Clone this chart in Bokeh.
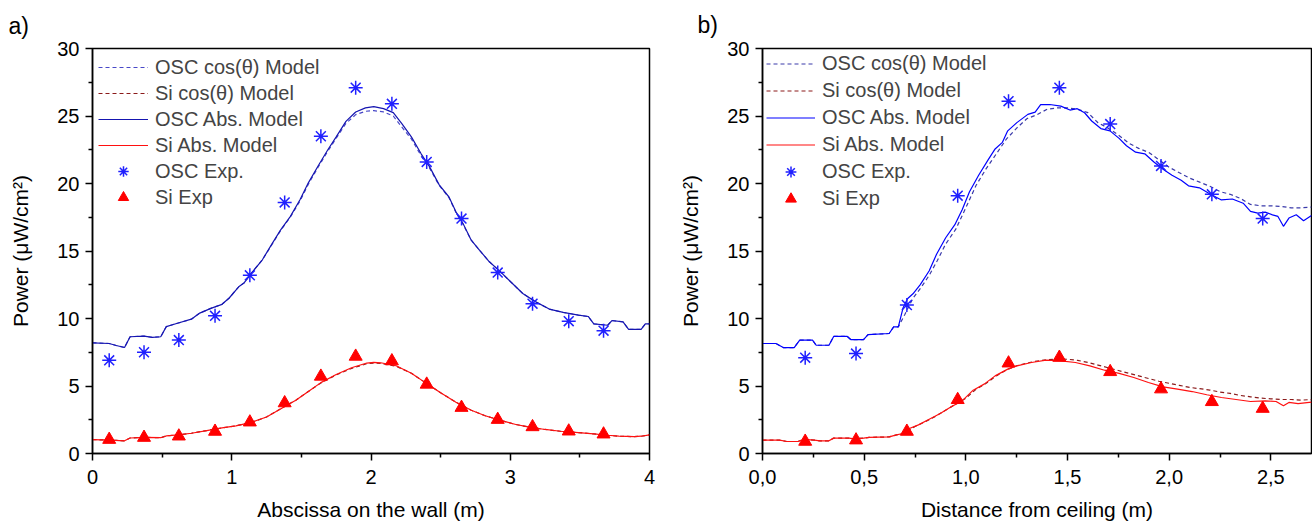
from bokeh.plotting import figure
from bokeh.layouts import row
from bokeh.models import (Range1d, FixedTicker, Legend, LegendItem,
                          CustomJSTickFormatter)
from bokeh.embed import file_html
from bokeh.resources import INLINE

FONT = "Liberation Sans"

# ---------------- panel a) data ----------------
a_exp_x = [0.12, 0.37, 0.62, 0.88, 1.13, 1.38, 1.64, 1.89, 2.15, 2.40, 2.65, 2.91, 3.16, 3.42, 3.67]
a_osc_exp = [6.9, 7.5, 8.4, 10.2, 13.2, 18.6, 23.5, 27.1, 25.9, 21.6, 17.4, 13.4, 11.1, 9.8, 9.1]
a_si_exp = [1.03, 1.18, 1.28, 1.63, 2.32, 3.74, 5.71, 7.19, 6.85, 5.12, 3.4, 2.51, 1.97, 1.65, 1.43]

a_osc_x = [0.0, 0.12, 0.17, 0.23, 0.27, 0.37, 0.43, 0.49, 0.53, 0.61, 0.71, 0.77, 0.85, 0.93, 0.98,
           1.05, 1.09, 1.14, 1.22, 1.29, 1.35, 1.42, 1.49, 1.55, 1.62, 1.69, 1.75, 1.82, 1.89, 1.96,
           2.02, 2.09, 2.16, 2.22, 2.29, 2.36, 2.42, 2.49, 2.56, 2.61, 2.66, 2.72, 2.78, 2.85, 2.93,
           3.01, 3.09, 3.18, 3.28, 3.38, 3.49, 3.56, 3.60, 3.70, 3.73, 3.81, 3.85, 3.94, 3.97, 4.0]
a_osc_abs = [8.2, 8.15, 8.0, 7.85, 8.65, 8.7, 8.6, 8.65, 9.4, 9.65, 9.95, 10.4, 10.75, 11.05, 11.5,
             12.35, 12.65, 13.35, 14.35, 15.55, 16.55, 17.55, 18.8, 20.05, 21.3, 22.5, 23.45, 24.6, 25.3, 25.6,
             25.7, 25.55, 25.25, 24.45, 23.45, 22.2, 21.25, 19.9, 19.0, 17.9, 17.05, 15.8, 15.05, 14.2, 13.45,
             12.65, 11.85, 11.25, 10.7, 10.45, 10.25, 10.15, 9.6, 9.5, 9.85, 9.75, 9.2, 9.2, 9.6, 9.6]
a_osc_cos = [8.2, 8.15, 8.0, 7.85, 8.65, 8.7, 8.6, 8.65, 9.4, 9.65, 9.95, 10.4, 10.75, 11.05, 11.5,
             12.35, 12.65, 13.35, 14.35, 15.5, 16.5, 17.5, 18.7, 19.95, 21.2, 22.4, 23.35, 24.45, 25.1, 25.35,
             25.4, 25.3, 25.0, 24.2, 23.3, 22.05, 21.15, 19.85, 18.95, 17.85, 17.0, 15.8, 15.05, 14.2, 13.45,
             12.65, 11.85, 11.25, 10.7, 10.45, 10.25, 10.15, 9.6, 9.5, 9.85, 9.75, 9.2, 9.2, 9.6, 9.6]

a_si_x = [0.0, 0.13, 0.23, 0.27, 0.37, 0.49, 0.53, 0.63, 0.71, 0.82, 0.93, 1.03, 1.14, 1.25, 1.35,
          1.46, 1.55, 1.64, 1.75, 1.86, 1.97, 2.02, 2.07, 2.18, 2.29, 2.39, 2.50, 2.61, 2.72, 2.82,
          2.93, 3.04, 3.14, 3.25, 3.36, 3.49, 3.60, 3.70, 3.78, 3.89, 3.94, 4.0]
a_si_abs = [1.03, 0.99, 0.94, 1.15, 1.2, 1.17, 1.3, 1.4, 1.5, 1.7, 1.9, 2.05, 2.3, 2.7, 3.3,
            3.95, 4.6, 5.25, 5.85, 6.35, 6.7, 6.75, 6.72, 6.5, 5.95, 5.25, 4.5, 3.8, 3.2, 2.8,
            2.45, 2.15, 1.95, 1.78, 1.65, 1.55, 1.45, 1.35, 1.28, 1.25, 1.28, 1.38]
a_si_cos = [1.03, 0.99, 0.94, 1.15, 1.2, 1.17, 1.3, 1.4, 1.5, 1.7, 1.9, 2.05, 2.3, 2.7, 3.3,
            3.95, 4.6, 5.22, 5.82, 6.3, 6.65, 6.7, 6.68, 6.47, 5.95, 5.25, 4.5, 3.8, 3.2, 2.8,
            2.45, 2.15, 1.95, 1.78, 1.65, 1.55, 1.45, 1.35, 1.28, 1.25, 1.28, 1.38]

# ---------------- panel b) data ----------------
b_exp_x = [0.21, 0.46, 0.71, 0.96, 1.21, 1.46, 1.71, 1.96, 2.21, 2.46]
b_osc_exp = [7.1, 7.4, 11.0, 19.1, 26.1, 27.1, 24.4, 21.3, 19.2, 17.4]
b_si_exp = [0.89, 0.99, 1.63, 3.98, 6.69, 7.11, 6.05, 4.77, 3.83, 3.33]

b_osc_x = [0.0, 0.066, 0.102, 0.156, 0.183, 0.246, 0.264, 0.327, 0.35, 0.417, 0.434, 0.497, 0.519,
           0.623, 0.645, 0.668, 0.691, 0.713, 0.74, 0.776, 0.82, 0.856, 0.901, 0.946, 0.982, 1.018,
           1.063, 1.108, 1.144, 1.18, 1.206, 1.251, 1.305, 1.341, 1.368, 1.413, 1.467, 1.512, 1.548,
           1.584, 1.619, 1.664, 1.709, 1.754, 1.79, 1.835, 1.88, 1.925, 1.97, 2.014, 2.059, 2.095,
           2.149, 2.203, 2.257, 2.311, 2.364, 2.4, 2.436, 2.472, 2.508, 2.535, 2.562, 2.589, 2.625,
           2.661, 2.7]
b_osc_abs = [8.15, 8.15, 7.85, 7.85, 8.4, 8.4, 8.02, 8.02, 8.67, 8.67, 8.44, 8.44, 8.81,
             8.89, 9.38, 9.38, 10.77, 11.46, 11.83, 12.51, 13.54, 14.76, 15.98, 16.95, 18.05, 19.39,
             20.61, 21.71, 22.56, 23.05, 23.9, 24.51, 25.12, 25.29, 25.85, 25.85, 25.73, 25.44, 25.54,
             25.24, 24.63, 24.07, 23.9, 23.34, 22.8, 22.32, 22.2, 21.59, 21.05, 20.61, 20.24, 19.83,
             19.68, 19.2, 18.78, 18.85, 18.54, 17.93, 17.8, 17.88, 17.68, 17.56, 16.83, 17.44, 17.68,
             17.24, 17.63]

b_cos_x = [0.0, 0.066, 0.102, 0.156, 0.183, 0.246, 0.264, 0.327, 0.35, 0.417, 0.434, 0.497, 0.519,
           0.623, 0.645, 0.668, 0.70, 0.74, 0.78, 0.82, 0.86, 0.90, 0.95,
           1.0, 1.05, 1.1, 1.15, 1.2, 1.25, 1.3, 1.35, 1.4, 1.45, 1.5, 1.55, 1.6, 1.65, 1.7, 1.75,
           1.8, 1.85, 1.9, 1.95, 2.0, 2.05, 2.1, 2.15, 2.2, 2.25, 2.3, 2.35, 2.4, 2.45, 2.5, 2.55,
           2.6, 2.65, 2.7]
b_osc_cos = [8.15, 8.15, 7.85, 7.85, 8.4, 8.4, 8.02, 8.02, 8.67, 8.67, 8.44, 8.44, 8.81,
             8.89, 9.38, 9.38, 10.3, 11.5, 12.3, 13.2, 14.3, 15.5, 16.6,
             18.2, 19.85, 21.1, 22.2, 23.3, 24.1, 24.8, 25.1, 25.5, 25.6, 25.6, 25.5, 25.25, 24.5, 24.1, 23.6,
             23.0, 22.6, 22.3, 21.75, 21.2, 20.8, 20.4, 20.1, 19.8, 19.4, 19.2, 18.9, 18.45, 18.35, 18.35, 18.3,
             18.2, 18.2, 18.25]

b_si_x = [0.0, 0.084, 0.12, 0.174, 0.201, 0.255, 0.282, 0.327, 0.35, 0.425, 0.452, 0.497, 0.524,
          0.623, 0.659, 0.691, 0.713, 0.767, 0.82, 0.874, 0.928, 0.982, 1.036, 1.09, 1.144, 1.206,
          1.251, 1.323, 1.395, 1.467, 1.539, 1.61, 1.682, 1.754, 1.826, 1.898, 1.97, 2.041, 2.113,
          2.185, 2.257, 2.329, 2.4, 2.472, 2.526, 2.562, 2.589, 2.634, 2.7]
b_si_abs = [0.99, 0.99, 0.89, 0.89, 1.04, 0.99, 0.94, 0.94, 1.14, 1.14, 1.09, 1.14, 1.19,
            1.23, 1.38, 1.48, 1.8, 2.12, 2.54, 2.96, 3.46, 3.9, 4.69, 5.14, 5.75, 6.25,
            6.49, 6.74, 6.91, 6.86, 6.74, 6.49, 6.17, 5.93, 5.63, 5.26, 4.94, 4.77, 4.59,
            4.35, 4.15, 4.0, 3.85, 3.9, 3.85, 3.53, 3.78, 3.7, 3.8]

b_si_cos_x = [0.0, 0.084, 0.12, 0.174, 0.201, 0.255, 0.282, 0.327, 0.35, 0.425, 0.452, 0.497, 0.524,
              0.623, 0.659, 0.691, 0.75, 0.8, 0.85, 0.9, 0.95,
              1.0, 1.05, 1.1, 1.15, 1.2, 1.25, 1.3, 1.35, 1.4, 1.45, 1.5, 1.55, 1.6, 1.65, 1.7, 1.75,
              1.8, 1.85, 1.9, 1.95, 2.0, 2.05, 2.1, 2.15, 2.2, 2.25, 2.3, 2.35, 2.4, 2.45, 2.5, 2.55,
              2.6, 2.65, 2.7]
b_si_cos = [0.99, 0.99, 0.89, 0.89, 1.04, 0.99, 0.94, 0.94, 1.14, 1.14, 1.09, 1.14, 1.19,
            1.23, 1.38, 1.48, 2.0, 2.35, 2.75, 3.2, 3.65,
            4.1, 4.75, 5.2, 5.75, 6.2, 6.5, 6.7, 6.85, 6.95, 7.0, 6.98, 6.9, 6.75, 6.55, 6.35, 6.15,
            5.95, 5.75, 5.55, 5.35, 5.2, 5.05, 4.9, 4.8, 4.7, 4.55, 4.45, 4.3, 4.2, 4.1, 4.05, 4.0,
            4.0, 3.95, 4.0]

y_ticks = [0, 5, 10, 15, 20, 25, 30]
y_minor = [2.5, 7.5, 12.5, 17.5, 22.5, 27.5]
a_x_ticks = [0, 1, 2, 3, 4]
a_x_minor = [0.5, 1.5, 2.5, 3.5]
b_x_ticks = [0.0, 0.5, 1.0, 1.5, 2.0, 2.5]
b_x_minor = [0.25, 0.75, 1.25, 1.75, 2.25]

legend_labels = ["OSC cos(\u03b8) Model", "Si cos(\u03b8) Model", "OSC Abs. Model",
                 "Si Abs. Model", "OSC Exp.", "Si Exp"]


def style_axes(p, xlabel):
    for ax in (p.xaxis[0], p.yaxis[0]):
        ax.axis_line_width = 1.5
        ax.axis_line_color = "black"
        ax.major_tick_in = 0
        ax.major_tick_out = 7
        ax.minor_tick_in = 0
        ax.minor_tick_out = 4
        ax.major_tick_line_width = 1.5
        ax.minor_tick_line_width = 1.5
        ax.major_tick_line_color = "black"
        ax.minor_tick_line_color = "black"
        ax.major_label_text_font = FONT
        ax.major_label_text_font_size = "20px"
        ax.major_label_text_color = "black"
        ax.axis_label_text_font = FONT
        ax.axis_label_text_font_size = "21px"
        ax.axis_label_text_font_style = "normal"
        ax.axis_label_text_color = "black"
    p.xaxis[0].axis_label = xlabel
    p.yaxis[0].axis_label = "Power (\u03bcW/cm\u00b2)"
    p.xaxis[0].major_label_standoff = 9
    p.xaxis[0].axis_label_standoff = 11
    p.yaxis[0].major_label_standoff = 6
    p.yaxis[0].axis_label_standoff = 22
    p.grid.visible = False
    p.outline_line_color = "black"
    p.outline_line_width = 1.5


def panel(width, bl, br, xmax, xt, xm, xlabel, tag, tag_offset, tag_standoff):
    p = figure(width=width, height=526, x_range=Range1d(0, xmax), y_range=Range1d(0, 30),
               output_backend="svg", toolbar_location=None,
               min_border_left=bl, min_border_right=br, min_border_top=48, min_border_bottom=73)
    p.title.text = tag
    p.title.align = "left"
    p.title.vertical_align = "top"
    p.title.offset = tag_offset
    p.title.standoff = tag_standoff
    p.title.text_font = FONT
    p.title.text_font_size = "23px"
    p.title.text_font_style = "normal"
    p.title.text_color = "black"
    p.xaxis[0].ticker = FixedTicker(ticks=xt, minor_ticks=xm)
    p.yaxis[0].ticker = FixedTicker(ticks=y_ticks, minor_ticks=y_minor)
    style_axes(p, xlabel)
    return p


def add_series(p, ox, ocos, sx_c, scos, ox_abs, oabs, sx, sabs, ex, oexp, sexp,
               osc_abs_col, osc_cos_col, loc, pad, item_h, gw):
    r1 = p.line(ox, ocos, line_color=osc_cos_col, line_width=1.2, line_dash="4 3")
    r2 = p.line(sx_c, scos, line_color="#8B1A1A", line_width=1.2, line_dash="4 3")
    r3 = p.line(ox_abs, oabs, line_color=osc_abs_col, line_width=1.2)
    r4 = p.line(sx, sabs, line_color="#FF1010", line_width=1.2)
    r5 = p.scatter(ex, oexp, marker="asterisk", size=14, line_color="#2020FF", line_width=1.5)
    r6 = p.scatter(ex, sexp, marker="triangle", size=13, fill_color="#FF0000",
                   line_color="#FF0000")
    items = [LegendItem(label=l, renderers=[r]) for l, r in
             zip(legend_labels, [r1, r2, r3, r4, r5, r6])]
    leg = Legend(items=items, location=loc, border_line_alpha=0,
                 background_fill_alpha=0, label_text_font=FONT,
                 label_text_font_size="20px", glyph_width=gw, glyph_height=item_h,
                 label_height=item_h, spacing=0, padding=pad, margin=0, label_standoff=7)
    p.add_layout(leg)


pa = panel(670, 92, 21, 4, a_x_ticks, a_x_minor, "Abscissa on the wall (m)", "a)", -84, 16)
add_series(pa, a_osc_x, a_osc_cos, a_si_x, a_si_cos, a_osc_x, a_osc_abs, a_si_x, a_si_abs,
           a_exp_x, a_osc_exp, a_si_exp, "#1515B0", "#4848C8", "top_left", 6, 26, 50)

pb = panel(642, 92, 1, 2.7, b_x_ticks, b_x_minor, "Distance from ceiling (m)", "b)", -65, 17)
pb.xaxis[0].formatter = CustomJSTickFormatter(code="return tick.toFixed(1).replace('.', ',');")
add_series(pb, b_cos_x, b_osc_cos, b_si_cos_x, b_si_cos, b_osc_x, b_osc_abs, b_si_x, b_si_abs,
           b_exp_x, b_osc_exp, b_si_exp, "#0000FF", "#3A3AAA", (4, 241), 0, 27, 49)

layout = row(pa, pb)
open("out.html", "w").write(file_html(layout, INLINE))
